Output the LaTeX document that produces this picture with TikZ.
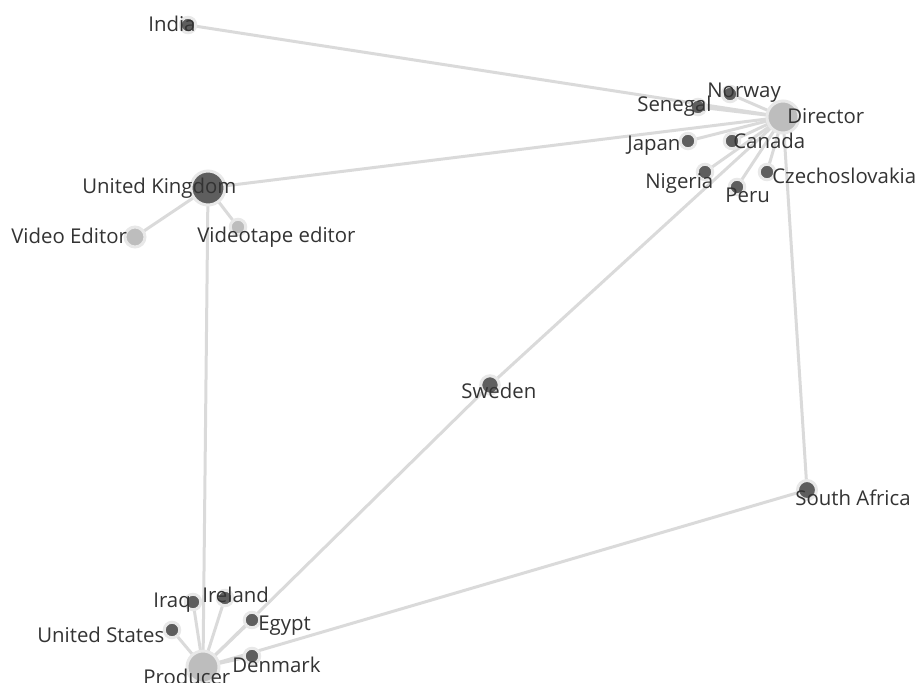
\documentclass[tikz,border=0pt]{standalone}
\usepackage{fontspec}
\setmainfont{Open Sans}
\usepackage{tikz}
\usetikzlibrary{backgrounds}
\definecolor{dotdark}{HTML}{5E5E5E}
\definecolor{dotlight}{HTML}{BDBDBD}
\definecolor{halo}{HTML}{E8E8E8}
\definecolor{edgegrey}{HTML}{DADADA}
\definecolor{labeltext}{HTML}{333333}

\tikzset{
  dot/.style={circle, draw=halo, line width=0.6mm, inner sep=0pt},
  dark/.style={dot, fill=dotdark, minimum size=3.1mm},
  light/.style={dot, fill=dotlight, minimum size=3.1mm},
  big/.style={minimum size=6.4mm},
  lbl/.style={anchor=base west, inner sep=0pt, text=labeltext,
    font=\fontsize{11.6}{13}\selectfont},
  link/.style={draw=edgegrey, line width=0.6mm}
}

\begin{document}
\begin{tikzpicture}[x=0.02cm, y=-0.02cm]
    \useasboundingbox (0,0) rectangle (921,683);
    % hubs
    \node[light, big] (director) at (783,117) {};
    \node[light, big] (producer) at (203,667) {};
    \node[dark, minimum size=6.8mm] (uk) at (208,188) {};
    % countries and roles
    \node[dark] (india) at (188,25) {};
    \node[dark] (norway) at (730,94) {};
    \node[dark] (senegal) at (698,107) {};
    \node[dark] (japan) at (688,141) {};
    \node[dark] (canada) at (732,141) {};
    \node[dark] (nigeria) at (705,172) {};
    \node[dark] (peru) at (737,187) {};
    \node[dark] (czech) at (767,172) {};
    \node[light, minimum size=4mm] (videditor) at (135,237) {};
    \node[light] (tapeeditor) at (238,227) {};
    \node[dark, minimum size=3.7mm] (sweden) at (490,385) {};
    \node[dark, minimum size=3.8mm] (safrica) at (807,490) {};
    \node[dark] (iraq) at (193,602) {};
    \node[dark] (ireland) at (225,598) {};
    \node[dark] (egypt) at (252,620) {};
    \node[dark] (usa) at (172,630) {};
    \node[dark] (denmark) at (252,656) {};

    \begin{scope}[on background layer]
    \draw[link] (india.center) -- (director.center);
    \draw[link] (uk.center) -- (director.center);
    \draw[link] (norway.center) -- (director.center);
    \draw[link] (senegal.center) -- (director.center);
    \draw[link] (japan.center) -- (director.center);
    \draw[link] (canada.center) -- (director.center);
    \draw[link] (nigeria.center) -- (director.center);
    \draw[link] (peru.center) -- (director.center);
    \draw[link] (czech.center) -- (director.center);
    \draw[link] (director.center) -- (sweden.center);
    \draw[link] (director.center) -- (safrica.center);
    \draw[link] (uk.center) -- (videditor.center);
    \draw[link] (uk.center) -- (tapeeditor.center);
    \draw[link] (uk.center) -- (producer.center);
    \draw[link] (sweden.center) -- (producer.center);
    \draw[link] (safrica.center) -- (producer.center);
    \draw[link] (iraq.center) -- (producer.center);
    \draw[link] (ireland.center) -- (producer.center);
    \draw[link] (egypt.center) -- (producer.center);
    \draw[link] (usa.center) -- (producer.center);
    \draw[link] (denmark.center) -- (producer.center);
    \end{scope}

    % labels
    \node[lbl] (tIndia) at (148,31) {India};
    \node[lbl] (tNorway) at (707,97) {Norway};
    \node[lbl] (tSenegal) at (637,111) {Senegal};
    \node[lbl] (tDirector) at (787,123) {Director};
    \node[lbl] (tJapan) at (627,150) {Japan};
    \node[lbl] (tCanada) at (733,148) {Canada};
    \node[lbl] (tNigeria) at (645,188) {Nigeria};
    \node[lbl] (tPeru) at (725,202) {Peru};
    \node[lbl] (tCzech) at (772,183) {Czechoslovakia};
    \node[lbl] (tUK) at (82,193) {United Kingdom};
    \node[lbl] (tVidEditor) at (11,243) {Video Editor};
    \node[lbl] (tTapeEditor) at (197,242) {Videotape editor};
    \node[lbl] (tSweden) at (461,398) {Sweden};
    \node[lbl] (tSAfrica) at (795,505) {South Africa};
    \node[lbl] (tIraq) at (153,607) {Iraq};
    \node[lbl] (tIreland) at (202,602) {Ireland};
    \node[lbl] (tEgypt) at (258,630) {Egypt};
    \node[lbl] (tUSA) at (37,642) {United States};
    \node[lbl] (tDenmark) at (232,672) {Denmark};
    \node[lbl] (tProducer) at (143,684) {Producer};
\end{tikzpicture}
\end{document}
